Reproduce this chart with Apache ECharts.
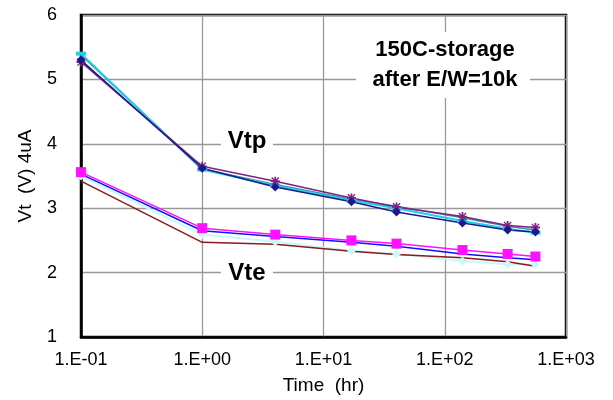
<!DOCTYPE html>
<html>
<head>
    <meta charset="utf-8">
    <title>Vt vs storage time</title>
    <script src="https://cdn.jsdelivr.net/npm/echarts@6/dist/echarts.min.js"></script>
    <style>
        html, body { margin: 0; padding: 0; background: #fff; }
    </style>
</head>
<body>
    <div id="main" style="width: 613px;height:400px;"></div>
    <script type="text/javascript">
        var myChart = echarts.init(document.getElementById('main'));

// storage time (hr)
var timeHr = [0.1, 1, 4, 17, 40, 140, 330, 560];

// Vtp group
var vtpNavy   = [5.30, 3.62, 3.33, 3.10, 2.94, 2.77, 2.66, 2.63];
var vtpPurple = [5.27, 3.65, 3.42, 3.16, 3.02, 2.87, 2.73, 2.70];
var vtpCyan   = [5.40, 3.60, 3.35, 3.12, 3.00, 2.80, 2.68, 2.62];
var vtpTeal   = [5.38, 3.61, 3.37, 3.14, 3.03, 2.85, 2.72, 2.66];

// Vte group
var vteMagenta = [3.56, 2.69, 2.59, 2.50, 2.45, 2.35, 2.29, 2.25];
var vteBlue    = [3.53, 2.65, 2.56, 2.47, 2.41, 2.29, 2.23, 2.20];
var vtePale    = [3.50, 2.59, 2.48, 2.34, 2.29, 2.18, 2.13, 2.12];
var vteBrown   = [3.42, 2.47, 2.44, 2.33, 2.28, 2.23, 2.17, 2.10];

var xTicks = [0.1, 1, 10, 100, 1000];
var xTickLabels = ['1.E-01', '1.E+00', '1.E+01', '1.E+02', '1.E+03'];

function pairs(ys) {
    return timeHr.map(function (t, i) { return [t, ys[i]]; });
}

function line(data, color, symbol, size, width, type) {
    return {
        type: 'line',
        data: pairs(data),
        symbol: symbol,
        symbolSize: size,
        showSymbol: symbol !== 'none',
        lineStyle: { color: color, width: width || 1.5, type: type || 'solid' },
        itemStyle: { color: color },
        animation: false
    };
}

var font = '"Liberation Sans", Arial, sans-serif';
// asterisk-like marker used by the purple series
var starMark = 'path://M4,0H6V3L8.5,0.5 9.5,1.5 7,4H10V6H7L9.5,8.5 8.5,9.5 6,7V10H4V7L1.5,9.5 0.5,8.5 3,6H0V4H3L0.5,1.5 1.5,0.5 4,3Z';

option = {
    backgroundColor: '#fff',
    grid: {
        left: 81, right: 47, top: 15, bottom: 60,
        show: true,
        borderColor: '#000',
        borderWidth: 2.5,
        containLabel: false
    },
    xAxis: {
        type: 'log',
        logBase: 10,
        min: 0.1,
        max: 1000,
        name: 'Time  (hr)',
        nameLocation: 'middle',
        nameGap: 39,
        nameTextStyle: { fontFamily: font, fontSize: 19, color: '#000' },
        axisLine: { lineStyle: { color: '#000', width: 2.5 } },
        axisTick: { show: false },
        splitLine: { show: true, lineStyle: { color: '#999', width: 1.3 } },
        minorSplitLine: { show: false },
        axisLabel: {
            fontFamily: font, fontSize: 18, color: '#000', margin: 14,
            formatter: function (v) {
                var idx = xTicks.findIndex(function (t) { return Math.abs(t - v) < t * 1e-6; });
                return idx >= 0 ? xTickLabels[idx] : '';
            }
        }
    },
    yAxis: {
        type: 'value',
        min: 1,
        max: 6,
        interval: 1,
        name: 'Vt  (V) 4uA',
        nameLocation: 'middle',
        nameGap: 46,
        nameTextStyle: { fontFamily: font, fontSize: 19, color: '#000' },
        axisLine: { show: true, lineStyle: { color: '#000', width: 2.5 } },
        axisTick: { show: false },
        splitLine: { show: true, lineStyle: { color: '#999', width: 1.3 } },
        axisLabel: { fontFamily: font, fontSize: 18, color: '#000', margin: 24 }
    },
    series: [
        line(vtpTeal, '#339999', 'none', 0, 1.5),
        line(vtpCyan, '#22CCEE', 'rect', [10, 4], 2),
        line(vtpPurple, '#802080', starMark, 9, 1.5),
        line(vtpNavy, '#1a1a8c', 'diamond', 9, 1.5),
        line(vtePale, '#C8F8F8', 'diamond', 9, 2),
        line(vteBrown, '#8B1A1A', 'none', 0, 1.5),
        line(vteBlue, '#1010FF', 'none', 0, 1.5),
        line(vteMagenta, '#FF10FF', 'rect', 10, 1.5)
    ],
    graphic: [
        {
            type: 'group', left: 356, top: 32, z: 100,
            children: [
                { type: 'rect', z: 100, shape: { x: 0, y: 0, width: 174, height: 66 }, style: { fill: '#fff' } },
                { type: 'text', z: 101, x: 89, y: 18, style: { text: '150C-storage', font: 'bold 22px ' + font, fill: '#000', align: 'center', verticalAlign: 'middle' } },
                { type: 'text', z: 101, x: 89, y: 48, style: { text: 'after E/W=10k', font: 'bold 22px ' + font, fill: '#000', align: 'center', verticalAlign: 'middle' } }
            ]
        },
        {
            type: 'group', left: 221, top: 126, z: 100,
            children: [
                { type: 'rect', z: 100, shape: { x: 0, y: 0, width: 52, height: 30 }, style: { fill: '#fff' } },
                { type: 'text', z: 101, x: 26, y: 15, style: { text: 'Vtp', font: 'bold 24px ' + font, fill: '#000', align: 'center', verticalAlign: 'middle' } }
            ]
        },
        {
            type: 'group', left: 221, top: 258, z: 100,
            children: [
                { type: 'rect', z: 100, shape: { x: 0, y: 0, width: 52, height: 30 }, style: { fill: '#fff' } },
                { type: 'text', z: 101, x: 26, y: 15, style: { text: 'Vte', font: 'bold 24px ' + font, fill: '#000', align: 'center', verticalAlign: 'middle' } }
            ]
        }
    ]
};

    myChart.setOption(option);
    </script>
</body>
</html>
